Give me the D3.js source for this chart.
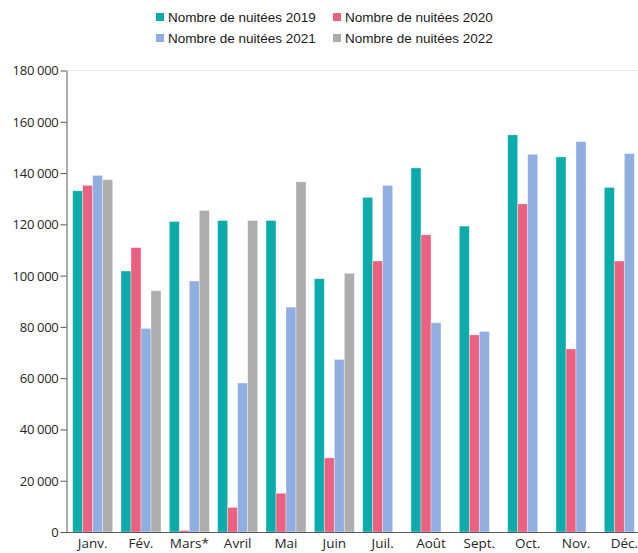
<!DOCTYPE html>
<html><head><meta charset="utf-8">
<script src="https://cdn.jsdelivr.net/npm/d3@7"></script>
<style>
html,body{margin:0;padding:0;background:#fff;}
svg{display:block;}
</style></head>
<body>
<svg id="chart" width="638" height="553"></svg>
<script>
const months = ["Janv.","Fév.","Mars*","Avril","Mai","Juin","Juil.","Août","Sept.","Oct.","Nov.","Déc."];
const seriesNames = ["Nombre de nuitées 2019","Nombre de nuitées 2020","Nombre de nuitées 2021","Nombre de nuitées 2022"];
const v2019 = [133100,101800,121100,121500,121500,98800,130500,142000,119300,154900,146300,134400];
const v2020 = [135200,110900,600,9600,15100,28900,105700,115900,76900,128000,71400,105700];
const v2021 = [139100,79400,97900,58100,87700,67300,135200,81600,78200,147300,152300,147600];
const v2022 = [137400,94100,125400,121500,136600,100900,null,null,null,null,null,null];
const yTicks = [0,20000,40000,60000,80000,100000,120000,140000,160000,180000];
const colors = ["#0AACAB","#EC6080","#8FAFE0","#ADADAD"];

const allSeries = [v2019,v2020,v2021,v2022];
const svg = d3.select("#chart");

const y = d3.scaleLinear().domain([0,180000]).range([532,70.5]);
const x0 = d3.scaleBand().domain(months).range([68.5,648.5]).paddingInner(0.1724).paddingOuter(0.0862);
const x1 = d3.scaleBand().domain(d3.range(4)).range([0,x0.bandwidth()]);

const fmt = v => d3.format(",")(v).replace(/,/g," ");

// top border line
svg.append("line").attr("x1",66.5).attr("x2",638).attr("y1",y(180000)).attr("y2",y(180000))
  .attr("stroke","#e6e6e6").attr("stroke-width",1);

// bars
const groups = svg.append("g").selectAll("g").data(months).join("g")
  .attr("transform",m=>`translate(${x0(m)},0)`);
groups.selectAll("rect").data((m,i)=>allSeries.map((s,k)=>({k,v:s[i]})).filter(d=>d.v!=null))
  .join("rect")
  .attr("x",d=>x1(d.k)).attr("width",x1.bandwidth())
  .attr("y",d=>y(d.v)).attr("height",d=>y(0)-y(d.v))
  .attr("fill",d=>colors[d.k])
  .attr("stroke","rgba(255,255,255,0.45)").attr("stroke-width",0.8);

// y axis
const yAxis = d3.axisLeft(y).tickValues(yTicks).tickFormat(fmt).tickSize(6).tickSizeOuter(0);
const gy = svg.append("g").attr("transform","translate(66.5,0)").call(yAxis);
gy.select(".domain").attr("stroke","#595959");
gy.selectAll(".tick line").attr("stroke","#595959");
gy.selectAll(".tick text").attr("fill","#262626").attr("font-family","'Open Sans', sans-serif")
  .attr("font-size","13px").attr("x",-8).attr("dy","0.34em").attr("letter-spacing","-0.3px");

// x axis
const xAxis = d3.axisBottom(x0).tickSize(0).tickSizeOuter(0);
const gx = svg.append("g").attr("transform","translate(0,532.5)").call(xAxis);
gx.select(".domain").remove();
svg.append("line").attr("x1",66.5).attr("x2",638).attr("y1",532.5).attr("y2",532.5).attr("stroke","#595959");
gx.selectAll(".tick text").attr("fill","#262626").attr("font-family","'Open Sans', sans-serif")
  .attr("font-size","13.5px").attr("y",5.5).attr("dy","0.71em");

// legend
const legendPos = [[156,17],[333,17],[156,38],[333,38]];
const lg = svg.append("g").selectAll("g").data(seriesNames).join("g")
  .attr("transform",(d,i)=>`translate(${legendPos[i][0]},${legendPos[i][1]})`);
lg.append("rect").attr("x",0).attr("y",-4).attr("width",8).attr("height",8).attr("fill",(d,i)=>colors[i]);
lg.append("text").attr("x",12).attr("y",0).attr("dy","0.35em").text(d=>d)
  .attr("font-family","'Liberation Sans', Arial, sans-serif").attr("font-size","13.5px").attr("fill","#1a1a1a");
</script>
</body></html>
